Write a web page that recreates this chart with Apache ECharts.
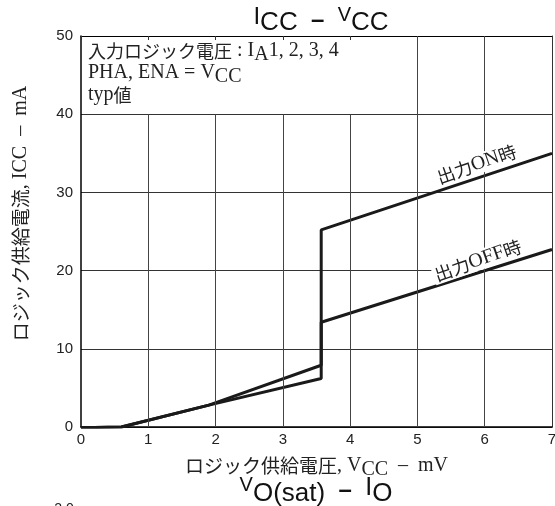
<!DOCTYPE html>
<html><head><meta charset="utf-8">
<script src="https://cdn.jsdelivr.net/npm/echarts@6/dist/echarts.min.js"></script>
<style>html,body{margin:0;padding:0;background:#fff}#c{width:555px;height:506px}</style>
</head><body><div id="c"></div>
<script>
// ---- data ----
const xTicks = [0, 1, 2, 3, 4, 5, 6, 7];
const yTicks = [0, 10, 20, 30, 40, 50];
const seriesNames = ['出力ON時', '出力OFF時'];
const seriesLabelRich = ['{c|出力}{l|ON}{c|時}', '{c|出力}{l|OFF}{c|時}'];
const onVcc  = [0, 0.6, 1.9, 3.57, 3.57, 7.0];
const onIcc  = [-0.1, 0.0, 2.8, 7.9, 25.2, 35.0];
const offVcc = [0, 0.6, 1.9, 3.57, 3.57, 7.0];
const offIcc = [-0.1, 0.0, 2.8, 6.2, 13.4, 22.7];
const labelAnchors = [[5.88, 33.6], [5.9, 21.3]];
const gridXs = [1, 2, 3, 4, 5, 6];
const noteBox = { xMax: 5, yMin: 40 };

const SERIF = "'Liberation Serif','Noto Sans CJK JP',serif";
const CJK = "'Noto Sans CJK JP','Liberation Serif',serif";
const SANS = "'Liberation Sans',Arial,sans-serif";
const INK = '#1a1a1a';
const TXT = '#222';
const xMin = xTicks[0], xMax = xTicks[xTicks.length - 1];
const yMin = yTicks[0], yMax = yTicks[yTicks.length - 1];

const chart = echarts.init(document.getElementById('c'), null, { renderer: 'canvas' });

const gridLineData = gridXs.map(x => [
  { coord: [x, yMin] },
  { coord: [x, x < noteBox.xMax ? noteBox.yMin : yMax] }
]);

// rich styles (ECharts naming: color)
const richE = {
  c: { fontFamily: CJK, fontSize: 18, color: TXT, lineHeight: 22 },
  l: { fontFamily: SERIF, fontSize: 20, color: TXT, lineHeight: 22 },
  s: { fontFamily: SERIF, fontSize: 20, color: TXT, lineHeight: 22, padding: [8, 0, 0, 0] }
};

function labelPoint(i) {
  return {
    silent: true,
    data: [{
      coord: labelAnchors[i], symbol: 'circle', symbolSize: 1,
      itemStyle: { color: 'rgba(0,0,0,0)' },
      label: {
        show: true, position: 'inside', formatter: seriesLabelRich[i], rotate: 19,
        backgroundColor: '#fff', padding: [0, 2],
        rich: {
          c: { fontFamily: CJK, fontSize: 18, color: TXT, lineHeight: 20 },
          l: { fontFamily: SERIF, fontSize: 20, color: TXT, lineHeight: 20 }
        }
      }
    }]
  };
}

const option = {
  animation: false,
  backgroundColor: '#fff',
  grid: { left: 81, right: 3, top: 36, bottom: 79, containLabel: false, outerBoundsMode: 'none' },
  xAxis: [{
    type: 'value', position: 'bottom', min: xMin, max: xMax, interval: 1,
    axisLine: { show: true, onZero: false, lineStyle: { color: '#000', width: 1.5 } },
    axisTick: { show: false },
    splitLine: { show: false },
    axisLabel: { color: TXT, fontFamily: SANS, fontSize: 15, margin: 5 },
    name: '{c|ロジック供給電圧}{l|, V}{s|CC}{l|  –  mV}',
    nameLocation: 'middle', nameGap: 25,
    nameTextStyle: { rich: Object.assign({}, richE, { c: Object.assign({}, richE.c, { fontSize: 19 }) }) }
  }, {
    type: 'value', position: 'top', min: xMin, max: xMax, interval: 1,
    axisLine: { show: true, onZero: false, lineStyle: { color: '#000', width: 1 } },
    axisTick: { show: true, inside: true, length: 4, lineStyle: { color: '#333' } },
    axisLabel: { show: false }, splitLine: { show: false }
  }],
  yAxis: [{
    type: 'value', position: 'left', min: yMin, max: yMax, interval: 10,
    axisLine: { show: true, onZero: false, lineStyle: { color: '#000', width: 1.5 } },
    axisTick: { show: false },
    splitLine: { show: true, lineStyle: { color: '#333', width: 1 } },
    axisLabel: { color: TXT, fontFamily: SANS, fontSize: 15, margin: 8 },
    name: '{c|ロジック供給電流}{l|, ICC  –  mA}',
    nameLocation: 'middle', nameRotate: 90, nameGap: 49,
    nameTextStyle: {
      padding: [0, 0, 0, 36],
      rich: Object.assign({}, richE, { c: Object.assign({}, richE.c, { fontSize: 19 }) })
    }
  }, {
    type: 'value', position: 'right', min: yMin, max: yMax, interval: 10,
    axisLine: { show: true, onZero: false, lineStyle: { color: '#333', width: 1 } },
    axisTick: { show: false }, axisLabel: { show: false }, splitLine: { show: false }
  }],
  series: [{
    type: 'line', name: 'grid', data: [], z: 1, silent: true,
    markLine: {
      silent: true, symbol: ['none', 'none'], label: { show: false },
      lineStyle: { color: '#444', width: 1, type: 'solid' },
      data: gridLineData
    }
  }, {
    type: 'line', name: seriesNames[0], z: 3,
    data: onVcc.map((x, i) => [x, onIcc[i]]),
    showSymbol: false, symbol: 'none',
    lineStyle: { color: INK, width: 3 },
    markPoint: labelPoint(0)
  }, {
    type: 'line', name: seriesNames[1], z: 3,
    data: offVcc.map((x, i) => [x, offIcc[i]]),
    showSymbol: false, symbol: 'none',
    lineStyle: { color: INK, width: 3 },
    markPoint: labelPoint(1)
  }],
  graphic: [{
    type: 'text', x: 321, y: 7, z: 10,
    style: {
      text: '{m|I}{s|CC}{d|  –  }{v|V}{s|CC}', align: 'center', verticalAlign: 'top',
      rich: {
        m: { fill: '#111', fontFamily: SANS, fontSize: 24, lineHeight: 26, padding: [0, 0, 6, 0] },
        s: { fill: '#111', fontFamily: SANS, fontSize: 26, lineHeight: 26, padding: [6, 0, 0, 0] },
        d: { fill: '#111', fontFamily: SANS, fontSize: 24, lineHeight: 26, fontWeight: 'bold' },
        v: { fill: '#111', fontFamily: SANS, fontSize: 20, lineHeight: 26, padding: [0, 0, 10, 0] }
      }
    }
  }, {
    type: 'text', x: 316, y: 477, z: 10,
    style: {
      text: '{v|V}{s|O(sat)}{d|  –  }{m|I}{s|O}', align: 'center', verticalAlign: 'top',
      rich: {
        m: { fill: '#111', fontFamily: SANS, fontSize: 25, lineHeight: 26, padding: [0, 0, 4, 0] },
        s: { fill: '#111', fontFamily: SANS, fontSize: 26, lineHeight: 26, padding: [8, 0, 0, 0] },
        d: { fill: '#111', fontFamily: SANS, fontSize: 24, lineHeight: 26, fontWeight: 'bold' },
        v: { fill: '#111', fontFamily: SANS, fontSize: 20, lineHeight: 26, padding: [0, 0, 10, 0] }
      }
    }
  }, {
    type: 'text', x: 88, y: 40, z: 10,
    style: {
      text: '{c|入力ロジック電圧}{l| : I}{s|A}{l|1, 2, 3, 4}\n{l|PHA, ENA = V}{s|CC}\n{l|typ}{c|値}',
      align: 'left', verticalAlign: 'top',
      rich: {
        c: { fill: TXT, fontFamily: CJK, fontSize: 18, lineHeight: 22 },
        l: { fill: TXT, fontFamily: SERIF, fontSize: 20, lineHeight: 22 },
        s: { fill: TXT, fontFamily: SERIF, fontSize: 20, lineHeight: 22, padding: [8, 0, 0, 0] }
      }
    }
  }, {
    type: 'text', x: 64, y: 502, z: 10,
    style: { text: '2.0', align: 'center', verticalAlign: 'top', fill: TXT, font: '14px ' + SANS }
  }]
};
chart.setOption(option);
</script>
</body></html>
